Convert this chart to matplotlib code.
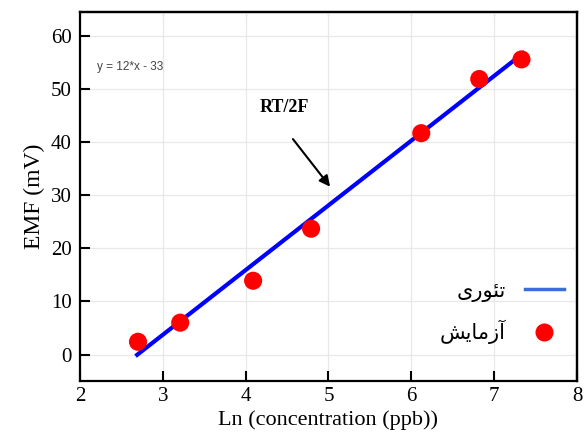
import matplotlib
matplotlib.use("Agg")
import matplotlib.pyplot as plt
from matplotlib.lines import Line2D

# Data
exp_x = [2.70, 3.21, 4.09, 4.79, 6.12, 6.82, 7.33]
exp_y = [2.4, 6.0, 13.9, 23.7, 41.7, 51.9, 55.6]
theory_x = [2.67, 7.37]
theory_y = [-0.3, 57.0]
x_ticks = [2, 3, 4, 5, 6, 7, 8]
y_ticks = [0, 10, 20, 30, 40, 50, 60]

# Pre-shaped Persian labels (visual order)
label_theory = "\uFEEF\uFEAD\uFEEE\uFE8C\uFE97"      # تئوری
label_exp = "\uFEB6\uFEF3\uFE8E\uFEE3\uFEAF\uFE81"   # آزمایش

serif = ["Liberation Serif", "DejaVu Serif"]

fig = plt.figure(figsize=(5.84, 4.34), dpi=100)
ax = fig.add_axes([0.137, 0.122, 0.851, 0.850])

ax.grid(True, color="#e8e8e8", linewidth=0.9, zorder=0)
ax.plot(theory_x, theory_y, color="#0000ff", linewidth=3, solid_capstyle="butt", zorder=3)
ax.scatter(exp_x, exp_y, s=170, color="#ff0000", edgecolors="none", zorder=4)

ax.set_xlim(2, 8)
ax.set_ylim(-5, 64.5)
ax.set_xticks(x_ticks)
ax.set_yticks(y_ticks)
for lab in ax.get_xticklabels() + ax.get_yticklabels():
    lab.set_fontfamily(serif)
    lab.set_fontsize(15)
ax.tick_params(axis="both", direction="in", length=7, width=1.5, pad=4, colors="black")
ax.tick_params(axis="y", pad=6)
for s in ax.spines.values():
    s.set_linewidth(1.6)

sec_x = ax.secondary_xaxis("top")
sec_x.set_xticks(x_ticks)
sec_x.tick_params(direction="in", length=3, width=0.8, labeltop=False, colors="#777777")
sec_y = ax.secondary_yaxis("right")
sec_y.set_yticks(y_ticks)
sec_y.tick_params(direction="in", length=3, width=0.8, labelright=False, colors="#777777")
sec_x.spines["top"].set_linewidth(1.6)
sec_y.spines["right"].set_linewidth(1.6)

ax.set_xlabel("Ln (concentration (ppb))", fontfamily=serif, fontsize=16, labelpad=3)
ax.set_ylabel("EMF (mV)", fontfamily=serif, fontsize=17, labelpad=4)

ax.text(2.2, 54.1, "y = 12*x - 33", fontsize=8.5, color="#444444",
        fontfamily=["Liberation Sans", "DejaVu Sans"], va="center", ha="left")
ax.text(4.47, 46.6, "RT/2F", fontsize=13, fontweight="bold", fontfamily=serif,
        ha="center", va="center")
ax.annotate("", xy=(5.04, 31.2), xytext=(4.55, 41.0),
            arrowprops=dict(arrowstyle="-|>", color="black", lw=1.5, mutation_scale=16))

handles = [
    Line2D([0], [0], color="#3a6fd8", linewidth=2.5),
    Line2D([0], [0], marker="o", color="none", markerfacecolor="#ff0000",
           markeredgecolor="none", markersize=13),
]
leg = ax.legend(handles, [label_theory, label_exp], loc="lower right",
                bbox_to_anchor=(1.012, 0.05), frameon=False, markerfirst=False,
                prop={"family": ["DejaVu Sans"], "size": 15}, handlelength=1.9,
                labelspacing=0.85, handletextpad=0.9)

fig.savefig("out.png", dpi=100)
